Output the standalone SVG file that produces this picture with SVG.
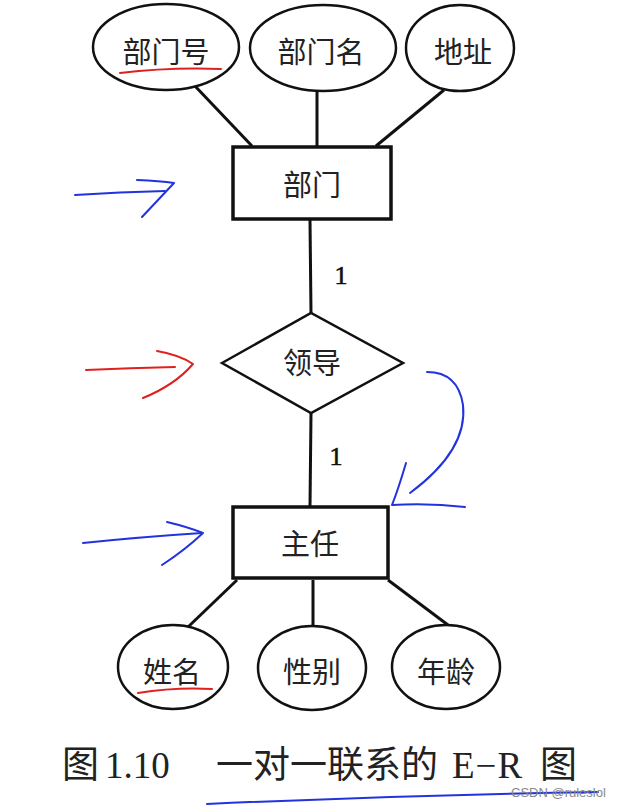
<svg xmlns="http://www.w3.org/2000/svg" width="620" height="808" viewBox="0 0 620 808">
<style>
.shape{fill:#fff;stroke:#111;stroke-width:2.5}
.ent{fill:#fff;stroke:#111;stroke-width:3.5}
.ln{stroke:#111;stroke-width:3;fill:none}
.t{font-family:"Noto Sans CJK SC","Liberation Serif",serif;font-size:29px;fill:#222;text-anchor:middle;dominant-baseline:central}
.num{font-family:"Liberation Serif",serif;font-size:26px;fill:#111;stroke:#111;stroke-width:0.6;text-anchor:middle;dominant-baseline:central}
.blue{stroke:#2233dd;stroke-width:2;fill:none;stroke-linecap:round;stroke-linejoin:round}
.red{stroke:#e02020;stroke-width:2;fill:none;stroke-linecap:round;stroke-linejoin:round}
</style>
<rect width="620" height="808" fill="#fff"/>
<g id="connectors">
<line class="ln" x1="194" y1="85" x2="252" y2="146"/>
<line class="ln" x1="317" y1="91" x2="317" y2="146"/>
<line class="ln" x1="444" y1="90" x2="376" y2="146"/>
<line class="ln" x1="310" y1="220" x2="311" y2="313"/>
<line class="ln" x1="311" y1="413" x2="310" y2="506"/>
<line class="ln" x1="188" y1="627" x2="237" y2="580"/>
<line class="ln" x1="313" y1="580" x2="313" y2="626"/>
<line class="ln" x1="388" y1="580" x2="448" y2="625"/>
<text class="num" x="341" y="275">1</text>
<text class="num" x="336" y="456">1</text>
</g>
<g id="attr-bumenhao"><ellipse class="shape" cx="166" cy="47" rx="73" ry="43"/><text class="t" x="166" y="50">部门号</text></g>
<g id="attr-bumenming"><ellipse class="shape" cx="323" cy="48" rx="73" ry="43"/><text class="t" x="321" y="50">部门名</text></g>
<g id="attr-dizhi"><ellipse class="shape" cx="460" cy="48" rx="54" ry="43"/><text class="t" x="463" y="50">地址</text></g>
<g id="entity-bumen"><rect class="ent" x="233" y="147" width="158" height="72"/><text class="t" x="312" y="183">部门</text></g>
<g id="rel-lingdao"><polygon class="shape" points="222,363 311,313 403,363 311,413"/><text class="t" x="312" y="361">领导</text></g>
<g id="entity-zhuren"><rect class="ent" x="233" y="507" width="155" height="71"/><text class="t" x="310" y="542">主任</text></g>
<g id="attr-xingming"><ellipse class="shape" cx="173" cy="667" rx="55" ry="42"/><text class="t" x="172" y="670">姓名</text></g>
<g id="attr-xingbie"><ellipse class="shape" cx="312" cy="668" rx="54" ry="42"/><text class="t" x="312" y="670">性别</text></g>
<g id="attr-nianling"><ellipse class="shape" cx="446" cy="667" rx="54" ry="42"/><text class="t" x="446" y="670">年龄</text></g>
<text font-family="Liberation Serif,Noto Sans CJK SC,serif" font-size="37" fill="#222" y="778"><tspan x="62">图</tspan><tspan x="105">1.10</tspan><tspan x="216" font-family="Noto Sans CJK SC,serif" font-size="37">一对一联系的</tspan><tspan x="452" letter-spacing="1">E−R</tspan><tspan x="540">图</tspan></text>
<g id="annotations">
<path class="blue" d="M75,195 Q120,192 165,191"/>
<path class="blue" d="M137,180 Q160,181 174,183 Q158,200 142,217"/>
<path class="red" d="M86,370 Q130,368 175,367"/>
<path class="red" d="M157,351 Q180,355 193,364 Q175,385 143,398"/>
<path class="blue" d="M427,372 Q458,372 463,405 Q468,450 410,493"/>
<path class="blue" d="M406,463 Q398,490 392,505 Q430,503 465,507"/>
<path class="blue" d="M83,543 Q140,537 202,533"/>
<path class="blue" d="M167,522 Q188,527 203,533 Q185,550 162,565"/>
<path class="red" d="M120,73 Q170,67 221,69"/>
<path class="red" d="M138,693 Q175,687 212,689"/>
<path class="blue" d="M207,804 Q400,795 598,792"/>
</g>
<text x="511" y="797" font-family="Liberation Sans,sans-serif" font-size="13" fill="#888">CSDN @ruleslol</text>
</svg>
